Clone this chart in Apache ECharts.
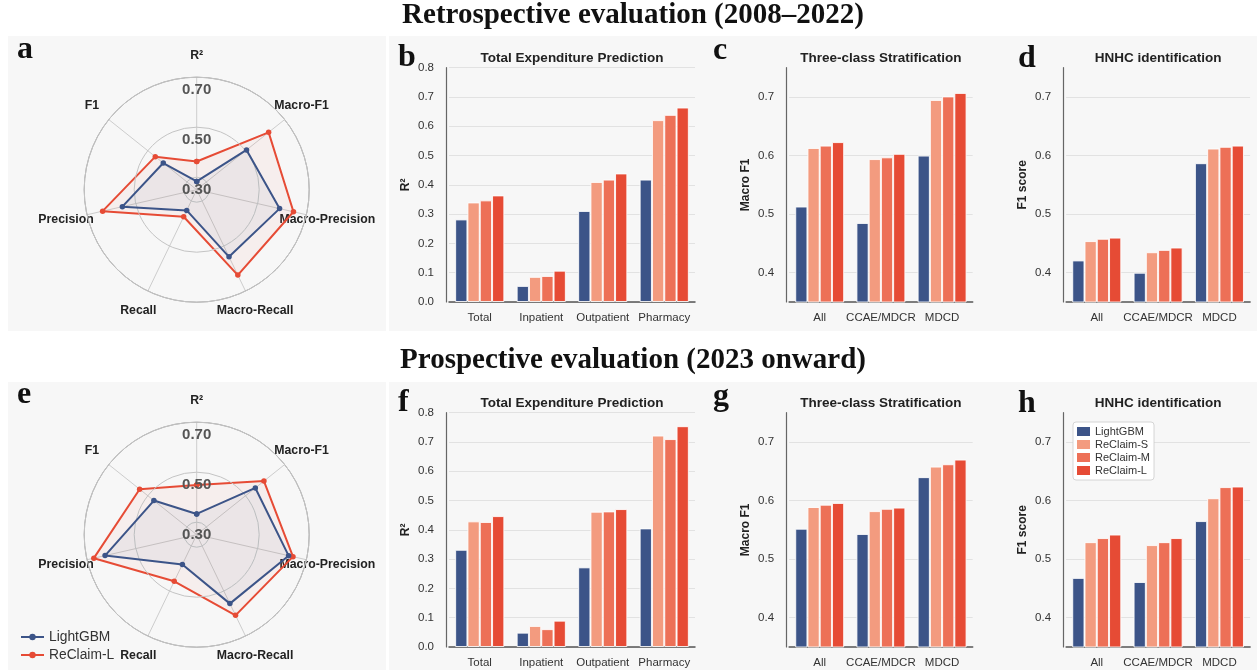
<!DOCTYPE html>
<html><head><meta charset="utf-8">
<script src="https://cdn.jsdelivr.net/npm/echarts@6/dist/echarts.min.js"></script>
<style>html,body{margin:0;padding:0;background:#fff}#c{width:1257px;height:670px}</style>
</head><body><div id="c"></div>
<script>
// ---------- DATA ----------
const models = ['LightGBM', 'ReClaim-S', 'ReClaim-M', 'ReClaim-L'];
const modelColors = ['#3C5488', '#F39B7F', '#ED7057', '#E64B35'];

const radarCats = ['R²', 'Macro-F1', 'Macro-Precision', 'Macro-Recall', 'Recall', 'Precision', 'F1'];
const radarTicks = [0.30, 0.50, 0.70];
const radarA_LightGBM = [0.283, 0.505, 0.590, 0.548, 0.342, 0.555, 0.421];
const radarA_ReClaimL = [0.363, 0.618, 0.647, 0.629, 0.370, 0.636, 0.462];
const radarE_LightGBM = [0.333, 0.550, 0.627, 0.556, 0.382, 0.626, 0.469];
const radarE_ReClaimL = [0.449, 0.594, 0.645, 0.608, 0.457, 0.672, 0.542];

const expCats = ['Total', 'Inpatient', 'Outpatient', 'Pharmacy'];
const cohortCats = ['All', 'CCAE/MDCR', 'MDCD'];

// b: Total Expenditure Prediction (retrospective)
const b_LightGBM = [0.282, 0.055, 0.311, 0.418];
const b_ReClaimS = [0.340, 0.086, 0.410, 0.621];
const b_ReClaimM = [0.347, 0.089, 0.418, 0.639];
const b_ReClaimL = [0.364, 0.107, 0.439, 0.664];
// c: Three-class Stratification (retrospective)
const c_LightGBM = [0.513, 0.485, 0.600];
const c_ReClaimS = [0.613, 0.594, 0.695];
const c_ReClaimM = [0.617, 0.597, 0.701];
const c_ReClaimL = [0.623, 0.603, 0.707];
// d: HNHC identification (retrospective)
const d_LightGBM = [0.421, 0.400, 0.587];
const d_ReClaimS = [0.454, 0.435, 0.612];
const d_ReClaimM = [0.458, 0.439, 0.615];
const d_ReClaimL = [0.460, 0.443, 0.617];
// f: Total Expenditure Prediction (prospective)
const f_LightGBM = [0.332, 0.049, 0.272, 0.405];
const f_ReClaimS = [0.429, 0.072, 0.462, 0.722];
const f_ReClaimM = [0.427, 0.061, 0.463, 0.710];
const f_ReClaimL = [0.447, 0.090, 0.471, 0.754];
// g: Three-class Stratification (prospective)
const g_LightGBM = [0.552, 0.543, 0.640];
const g_ReClaimS = [0.589, 0.582, 0.658];
const g_ReClaimM = [0.593, 0.586, 0.662];
const g_ReClaimL = [0.596, 0.588, 0.670];
// h: HNHC identification (prospective)
const h_LightGBM = [0.468, 0.461, 0.565];
const h_ReClaimS = [0.529, 0.524, 0.604];
const h_ReClaimM = [0.536, 0.529, 0.623];
const h_ReClaimL = [0.542, 0.536, 0.624];

const mainTitles = ['Retrospective evaluation (2008–2022)', 'Prospective evaluation (2023 onward)'];
const panelTitles = ['Total Expenditure Prediction', 'Three-class Stratification', 'HNHC identification'];
const yNames = ['R²', 'Macro F1', 'F1 score'];
const letters = [['a', 'b', 'c', 'd'], ['e', 'f', 'g', 'h']];

// ---------- LAYOUT / STYLE ----------
const SANS = '"Liberation Sans", Arial, sans-serif';
const SERIF = '"Liberation Serif", "Times New Roman", serif';
const rowOff = [0, 345];
const gridTop = 67.7, gridH = 234.3;
const cols = [{ left: 449, width: 246 }, { left: 789.1, width: 183.6 }, { left: 1066.1, width: 184 }];

const barPanels = [
  { row: 0, col: 0, cats: expCats, vals: [b_LightGBM, b_ReClaimS, b_ReClaimM, b_ReClaimL], min: 0, max: 0.8, step: 0.1 },
  { row: 0, col: 1, cats: cohortCats, vals: [c_LightGBM, c_ReClaimS, c_ReClaimM, c_ReClaimL], min: 0.35, max: 0.75, step: 0.05 },
  { row: 0, col: 2, cats: cohortCats, vals: [d_LightGBM, d_ReClaimS, d_ReClaimM, d_ReClaimL], min: 0.35, max: 0.75, step: 0.05 },
  { row: 1, col: 0, cats: expCats, vals: [f_LightGBM, f_ReClaimS, f_ReClaimM, f_ReClaimL], min: 0, max: 0.8, step: 0.1 },
  { row: 1, col: 1, cats: cohortCats, vals: [g_LightGBM, g_ReClaimS, g_ReClaimM, g_ReClaimL], min: 0.35, max: 0.75, step: 0.05 },
  { row: 1, col: 2, cats: cohortCats, vals: [h_LightGBM, h_ReClaimS, h_ReClaimM, h_ReClaimL], min: 0.35, max: 0.75, step: 0.05 }
];

const grids = [], xAxes = [], yAxes = [], series = [];

// ---------- RADARS (polar) ----------
const radarSets = [
  { lg: radarA_LightGBM, rl: radarA_ReClaimL },
  { lg: radarE_LightGBM, rl: radarE_ReClaimL }
];
const polars = [], angleAxes = [], radiusAxes = [];
function closeLoop(vals) {
  const d = vals.map((v, i) => [v, i]);
  d.push([vals[0], vals.length]);
  return d;
}
const radarSeries = [];
radarSets.forEach((rs, pi) => {
  polars.push({ center: [196.7, 189.7 + rowOff[pi]], radius: 112.5 });
  angleAxes.push({
    polarIndex: pi, type: 'value', min: 0, max: radarCats.length, interval: 1,
    startAngle: 90, clockwise: true,
    axisLine: { lineStyle: { color: '#9a9a9a', width: 1 } },
    axisTick: { show: false },
    splitLine: { lineStyle: { color: '#cdcdcd', width: 1 } },
    axisLabel: {
      margin: 21,
      formatter: v => { const i = Math.round(v); return i < radarCats.length ? '{n|' + radarCats[i] + '}' : ''; },
      rich: { n: { fontFamily: SANS, fontSize: 12.3, fontWeight: 'bold', color: '#222', width: 1, lineHeight: 2, align: 'center', verticalAlign: 'middle' } }
    }
  });
  radiusAxes.push({
    polarIndex: pi, type: 'value', min: 0.25, max: 0.70, interval: 0.05,
    axisLine: { show: false }, axisTick: { show: false },
    splitLine: { show: true, lineStyle: { color: ['rgba(0,0,0,0)', '#c4c4c4', 'rgba(0,0,0,0)', 'rgba(0,0,0,0)'], width: 1 } },
    axisLabel: {
      margin: 0, align: 'center', verticalAlign: 'top', padding: [5, 0, 0, 0],
      fontFamily: SANS, fontSize: 15, fontWeight: 'bold', color: '#555',
      formatter: v => radarTicks.some(t => Math.abs(t - v) < 1e-6) ? v.toFixed(2) : ''
    },
    z: 3
  });
  radarSeries.push({
    type: 'line', name: 'LightGBM', coordinateSystem: 'polar', polarIndex: pi,
    data: closeLoop(rs.lg), color: modelColors[0],
    symbol: 'circle', symbolSize: 5.5, lineStyle: { width: 2 },
    areaStyle: { color: 'rgba(60,84,136,0.08)' }, z: 3
  });
  radarSeries.push({
    type: 'line', name: 'ReClaim-L', coordinateSystem: 'polar', polarIndex: pi,
    data: closeLoop(rs.rl), color: modelColors[3],
    symbol: 'circle', symbolSize: 5.5, lineStyle: { width: 2 },
    areaStyle: { color: 'rgba(230,75,53,0.07)' }, z: 2
  });
});
radarSeries.forEach(s => series.push(s));

// ---------- BAR PANELS ----------
barPanels.forEach((p, gi) => {
  const c = cols[p.col];
  grids.push({ left: c.left, top: gridTop + rowOff[p.row], width: c.width, height: gridH, containLabel: false, outerBoundsMode: 'none' });
  xAxes.push({
    gridIndex: gi, type: 'category', data: p.cats,
    axisLine: { show: true, lineStyle: { color: '#555', width: 1.5 } },
    axisTick: { show: false },
    axisLabel: { fontFamily: SANS, fontSize: 11.5, color: '#333', margin: 10, interval: 0 },
    splitLine: { show: false }
  });
  const fine = p.step < 0.1;
  yAxes.push({
    gridIndex: gi, type: 'value', min: p.min, max: p.max, interval: p.step, offset: 3,
    name: yNames[p.col], nameLocation: 'middle', nameGap: 34, nameRotate: 90,
    nameTextStyle: { fontFamily: SANS, fontSize: 12, fontWeight: 'bold', color: '#222' },
    axisLine: { show: true, lineStyle: { color: '#666', width: 1.2 } },
    axisTick: { show: false },
    axisLabel: {
      fontFamily: SANS, fontSize: 11.5, color: '#333', margin: 12,
      formatter: v => { const r = Math.round(v * 100); return (r % 10 === 0) ? (r / 100).toFixed(1) : ''; }
    },
    splitLine: { show: true, lineStyle: { color: fine ? ['rgba(0,0,0,0)', '#e2e2e2'] : '#e2e2e2', width: 1 } }
  });
  models.forEach((m, k) => {
    series.push({
      type: 'bar', name: m, xAxisIndex: gi, yAxisIndex: gi, data: p.vals[k],
      barGap: '0%', barCategoryGap: '20%',
      itemStyle: { color: modelColors[k], borderColor: 'rgba(255,255,255,0.85)', borderWidth: 1 }
    });
  });
});

// ---------- TEXT & BACKGROUNDS ----------
const g = [];
[[36, 331], [382, 670]].forEach(([y0, y1]) => {
  g.push({ type: 'rect', z: -10, shape: { x: 8, y: y0, width: 378, height: y1 - y0 }, style: { fill: '#f7f7f7' } });
  g.push({ type: 'rect', z: -10, shape: { x: 389, y: y0, width: 868, height: y1 - y0 }, style: { fill: '#f7f7f7' } });
});
mainTitles.forEach((t, r) => g.push({ type: 'text', z: 100, x: 633, y: 15.8 + rowOff[r],
  style: { text: t, font: 'bold 29px ' + SERIF, fill: '#111', align: 'center', verticalAlign: 'middle' } }));
[0, 1].forEach(r => cols.forEach((c, ci) => g.push({ type: 'text', z: 100, x: c.left + c.width / 2, y: 58.6 + rowOff[r],
  style: { text: panelTitles[ci], font: 'bold 13.5px ' + SANS, fill: '#222', align: 'center', verticalAlign: 'middle' } })));
const letterPos = [[[17, 50], [398, 57.5], [713, 51], [1018, 58.5]], [[17, 395], [398, 403], [713, 397], [1018, 404]]];
letters.forEach((row, r) => row.forEach((L, i) => g.push({ type: 'text', z: 100, x: letterPos[r][i][0], y: letterPos[r][i][1],
  style: { text: L, font: 'bold 32px ' + SERIF, fill: '#111', align: 'left', verticalAlign: 'middle' } })));

const chart = echarts.init(document.getElementById('c'), null, { renderer: 'canvas' });
chart.setOption({
  animation: false,
  backgroundColor: '#fff',
  textStyle: { fontFamily: SANS },
  polar: polars, angleAxis: angleAxes, radiusAxis: radiusAxes,
  grid: grids, xAxis: xAxes, yAxis: yAxes,
  legend: [
    { data: ['LightGBM', 'ReClaim-L'], orient: 'vertical', left: 20, top: 630, itemWidth: 23, itemHeight: 8, itemGap: 4,
      padding: 0, selectedMode: false, textStyle: { fontFamily: SANS, fontSize: 13.8, color: '#333' } },
    { data: models, orient: 'vertical', left: 1073, top: 422, icon: 'rect', itemWidth: 13, itemHeight: 9, itemGap: 2,
      padding: 4, selectedMode: false, backgroundColor: '#fff', borderColor: '#cccccc', borderWidth: 0.8, borderRadius: 3,
      itemStyle: { borderWidth: 0 },
      textStyle: { fontFamily: SANS, fontSize: 11, color: '#333' } }
  ],
  graphic: { elements: g },
  series: series
});
</script></body></html>
